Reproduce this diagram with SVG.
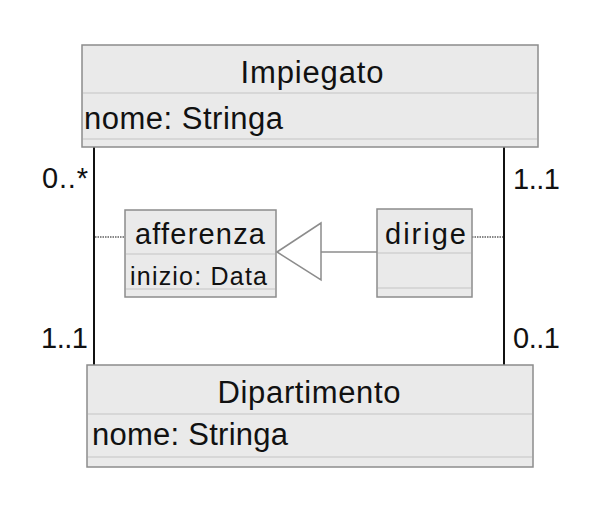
<svg xmlns="http://www.w3.org/2000/svg" width="616" height="508" viewBox="0 0 616 508">
<style>
text{font-family:"Liberation Sans",Arial,sans-serif;fill:#111}
.box{fill:#eaeaea;stroke:#8c8c8c;stroke-width:1.5}
.div{stroke:#c4c4c4;stroke-width:1.2}
.assoc{stroke:#111;stroke-width:2;fill:none}
.dot{stroke:#111;stroke-width:1.2;stroke-dasharray:1.5 1;fill:none}
.gen{stroke:#8c8c8c;stroke-width:1.5;fill:none}
.big{font-size:31px}
.mid{font-size:29px}
.sm{font-size:25px}
.mult{font-size:29px}
</style>
<g id="connectors">
<line class="assoc" x1="94" y1="147" x2="94" y2="365"/>
<line class="assoc" x1="504" y1="147" x2="504" y2="365"/>
<line class="dot" x1="95" y1="237" x2="125" y2="237"/>
<line class="dot" x1="472" y1="237" x2="503" y2="237"/>
<line class="gen" x1="321" y1="252" x2="377" y2="252"/>
<polygon class="gen" points="277,252 321,223 321,280" style="fill:#fff"/>
<text class="mult" x="88" y="188" text-anchor="end" textLength="46">0..*</text>
<text class="mult" x="88" y="348" text-anchor="end" textLength="47">1..1</text>
<text class="mult" x="513" y="189" textLength="47">1..1</text>
<text class="mult" x="513" y="348" textLength="47">0..1</text>
</g>
<g id="Impiegato">
<rect class="box" x="82" y="45" width="456" height="102"/>
<line class="div" x1="83" y1="93" x2="537" y2="93"/>
<line class="div" x1="83" y1="139" x2="537" y2="139"/>
<text class="big" x="312" y="83" text-anchor="middle" textLength="143">Impiegato</text>
<text class="big" x="84" y="129" textLength="199">nome: Stringa</text>
</g>
<g id="afferenza">
<rect class="box" x="125" y="210" width="151" height="87"/>
<line class="div" x1="126" y1="254" x2="275" y2="254"/>
<line class="div" x1="126" y1="289" x2="275" y2="289"/>
<text class="mid" x="135" y="244" textLength="130">afferenza</text>
<text class="sm" x="130" y="285" textLength="137">inizio: Data</text>
</g>
<g id="dirige">
<rect class="box" x="377" y="209" width="95" height="88"/>
<line class="div" x1="378" y1="253" x2="471" y2="253"/>
<line class="div" x1="378" y1="288" x2="471" y2="288"/>
<text class="mid" x="385" y="244" textLength="81">dirige</text>
</g>
<g id="Dipartimento">
<rect class="box" x="87" y="365" width="446" height="102"/>
<line class="div" x1="88" y1="414" x2="532" y2="414"/>
<line class="div" x1="88" y1="457" x2="532" y2="457"/>
<text class="big" x="309" y="403" text-anchor="middle" textLength="183">Dipartimento</text>
<text class="big" x="92" y="445" textLength="196">nome: Stringa</text>
</g>
</svg>
